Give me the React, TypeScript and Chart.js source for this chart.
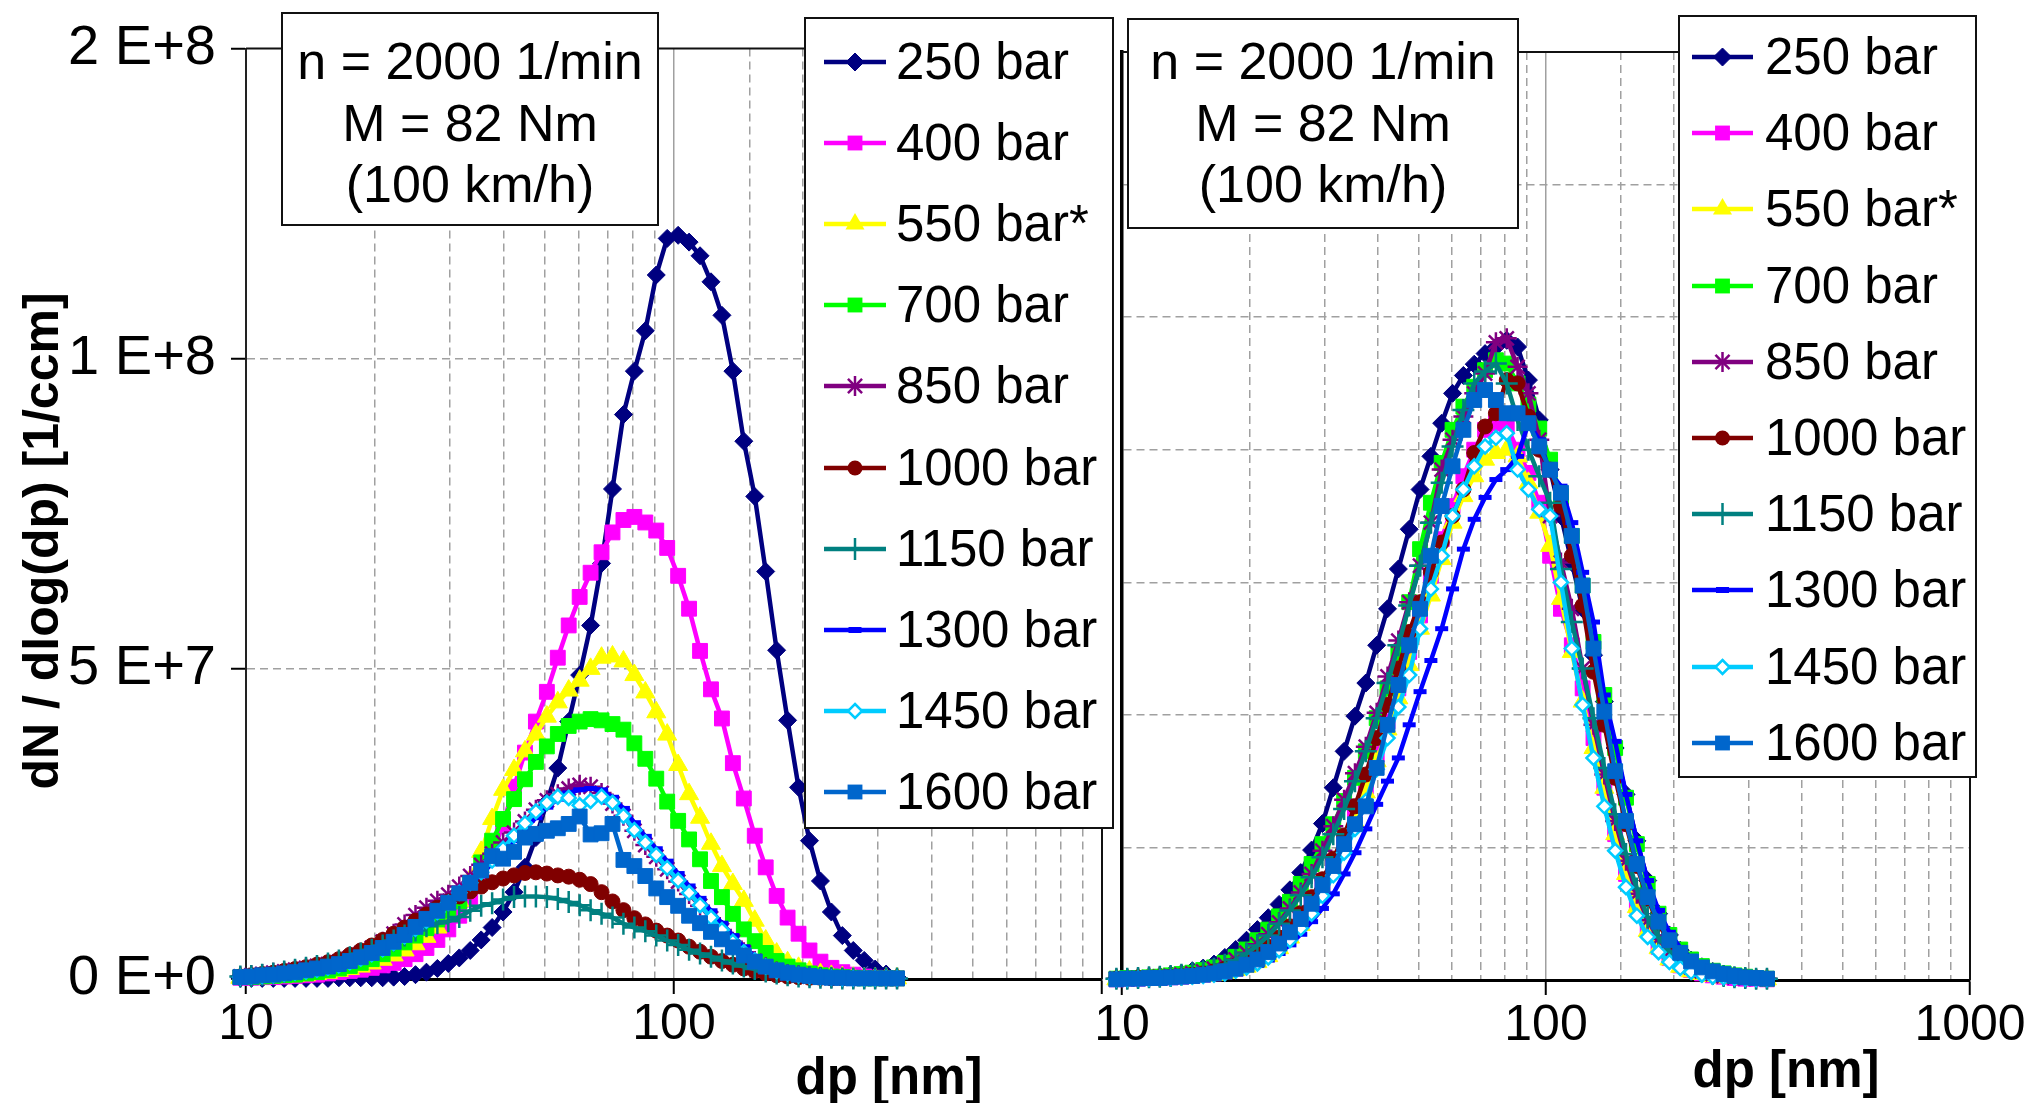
import React, { useEffect, useRef } from 'react';
import { Chart, registerables } from 'chart.js';

Chart.register(...registerables);

const FONT = '"Liberation Sans", Arial, sans-serif';

// particle diameter channels [nm]
const DP = [9.70, 10.29, 10.91, 11.58, 12.28, 13.02, 13.81, 14.65, 15.54, 16.48,
  17.48, 18.54, 19.67, 20.86, 22.13, 23.47, 24.89, 26.40, 28.00, 29.70,
  31.50, 33.41, 35.44, 37.59, 39.87, 42.29, 44.85, 47.57, 50.46, 53.52,
  56.75, 60.20, 63.85, 67.72, 71.83, 76.18, 80.80, 85.70, 90.90, 96.41,
  102.26, 108.46, 115.04, 122.02, 129.42, 137.26, 145.59, 154.42, 163.79, 173.72,
  184.26, 195.43, 207.29, 219.86, 233.19, 247.34, 262.34, 278.25, 295.12, 313.02, 332.0];

const SERIES_NAMES = ['250 bar', '400 bar', '550 bar*', '700 bar', '850 bar', '1000 bar', '1150 bar', '1300 bar', '1450 bar', '1600 bar'];

// Left chart: dN/dlog(dp) in units of 1E6 1/ccm
const L250 = [0.1, 0.1, 0.1, 0.1, 0.1, 0.1, 0.1, 0.1, 0.1, 0.2, 0.2, 0.2, 0.2, 0.2, 0.3, 0.4, 0.7, 1.1, 1.7, 2.5, 3.4, 4.6, 6.3, 8.3, 10.8, 14, 18, 22.8, 28.5, 34, 41.5, 49, 57, 67, 79, 91, 98, 104.5, 113.5, 119.4, 119.9, 118.8, 116.6, 112.4, 107, 98, 86.7, 77.8, 65.7, 53, 41.7, 30.9, 22.3, 15.8, 10.8, 7.0, 4.6, 3.0, 1.6, 0.8, 0.3];
const L400 = [0.2, 0.2, 0.3, 0.3, 0.4, 0.5, 0.6, 0.7, 0.9, 1.1, 1.3, 1.5, 1.8, 2.2, 2.6, 3.2, 4.0, 5.0, 6.3, 8.0, 10.2, 12.8, 16, 20, 25, 31, 36.5, 41.5, 46.3, 51.8, 57, 61.6, 65.5, 68.8, 72, 74, 74.5, 73.6, 72.3, 69.5, 65, 59.7, 52.9, 46.7, 42, 34.8, 29.1, 23.1, 18, 13.4, 9.9, 7.3, 4.6, 2.8, 1.8, 1.1, 0.7, 0.4, 0.2, 0.1, 0.1];
const L550 = [0.2, 0.2, 0.3, 0.3, 0.4, 0.5, 0.6, 0.8, 1.0, 1.3, 1.6, 2.0, 2.5, 3.1, 3.8, 4.6, 5.6, 6.8, 8.3, 10.2, 12.6, 16, 20.5, 25.8, 30.5, 33.7, 36.7, 39.4, 42.3, 44.6, 46.5, 48.1, 50, 51.8, 52, 51.2, 49, 46.2, 43, 39.4, 34.5, 29.8, 26, 21.8, 18.2, 15.3, 12.6, 9.4, 6.2, 4.1, 2.7, 1.8, 1.2, 0.8, 0.5, 0.3, 0.2, 0.1, 0.1, 0.1, 0.1];
const L700 = [0.3, 0.3, 0.4, 0.5, 0.6, 0.7, 0.9, 1.1, 1.4, 1.7, 2.1, 2.6, 3.2, 4.0, 4.9, 5.9, 7.0, 8.2, 9.6, 11.0, 12.5, 15.5, 18.8, 22.3, 25.8, 29, 32.2, 35, 37.5, 39.5, 40.8, 41.5, 41.9, 41.7, 41.1, 40.2, 38, 35.5, 32.3, 28.6, 25.5, 22.5, 19.3, 15.8, 13.2, 10.5, 8, 6.1, 4.2, 2.9, 2, 1.4, 0.9, 0.6, 0.4, 0.3, 0.2, 0.1, 0.1, 0.1, 0.1];
const L850 = [0.4, 0.6, 0.8, 1.0, 1.2, 1.5, 1.8, 2.1, 2.4, 2.8, 3.4, 4.1, 5.0, 6.0, 7.3, 8.8, 10.3, 11.5, 12.6, 13.6, 14.9, 16.6, 18.4, 20.2, 22, 23.6, 25.4, 27.3, 28.8, 29.8, 30.7, 31.3, 31, 30, 28.3, 26.3, 23.9, 21.6, 19.7, 17.7, 15.7, 13.7, 11.8, 9.8, 7.9, 6.0, 4.3, 2.9, 1.9, 1.2, 0.8, 0.6, 0.4, 0.3, 0.2, 0.2, 0.1, 0.1, 0.1, 0.1, 0.1];
const L1000 = [0.4, 0.6, 0.8, 1.0, 1.3, 1.6, 1.9, 2.3, 2.7, 3.2, 3.9, 4.6, 5.4, 6.3, 7.3, 8.3, 9.4, 10.4, 11.5, 12.5, 13.3, 14.1, 14.9, 15.6, 16.2, 16.7, 17.1, 17.2, 17, 16.7, 16.5, 16, 15.3, 14, 12.5, 11.1, 9.8, 8.8, 7.8, 7, 6.2, 5.2, 4.4, 3.6, 2.9, 2.3, 1.7, 1.3, 0.9, 0.6, 0.4, 0.3, 0.2, 0.2, 0.1, 0.1, 0.1, 0.1, 0.1, 0.1, 0.1];
const L1150 = [0.4, 0.5, 0.7, 0.9, 1.2, 1.5, 1.8, 2.1, 2.5, 3.0, 3.5, 4.1, 4.7, 5.4, 6.2, 7.0, 7.8, 8.5, 9.0, 9.3, 10, 11, 11.8, 12.2, 12.8, 13.2, 13.3, 13.3, 13.2, 12.9, 12.4, 11.9, 11.1, 10.5, 9.9, 8.9, 8.3, 7.7, 7.0, 6.2, 5.5, 4.7, 4.1, 3.6, 3.0, 2.5, 2.0, 1.6, 1.2, 0.9, 0.6, 0.4, 0.3, 0.2, 0.2, 0.1, 0.1, 0.1, 0.1, 0.1, 0.1];
const L1300 = [0.3, 0.4, 0.5, 0.7, 0.9, 1.1, 1.3, 1.6, 1.9, 2.3, 2.8, 3.4, 4.1, 5.0, 6.0, 7.1, 8.3, 9.6, 11.0, 12.4, 13.8, 15.3, 16.9, 18.6, 20.4, 22.3, 24.2, 26, 27.7, 29, 30, 30.5, 30.7, 30.5, 29.3, 27.5, 25.2, 23, 21, 19, 17, 15, 13, 11, 9, 7, 5.2, 3.6, 2.4, 1.6, 1.0, 0.7, 0.5, 0.3, 0.2, 0.2, 0.1, 0.1, 0.1, 0.1, 0.1];
const L1450 = [0.3, 0.4, 0.5, 0.6, 0.8, 1.0, 1.2, 1.5, 1.8, 2.2, 2.7, 3.3, 4.0, 4.8, 5.8, 6.9, 8.1, 9.4, 10.8, 12.3, 13.9, 15.5, 17.2, 19.1, 21, 23.1, 25.1, 27, 28.4, 29.4, 29.2, 28, 28.7, 29.4, 28.4, 26.3, 24, 22, 20, 17.9, 15.9, 13.9, 11.9, 9.9, 7.9, 6.0, 4.3, 3.0, 2.0, 1.3, 0.9, 0.6, 0.4, 0.3, 0.2, 0.1, 0.1, 0.1, 0.1, 0.1, 0.1];
const L1600 = [0.3, 0.4, 0.6, 0.7, 0.9, 1.1, 1.4, 1.7, 2.0, 2.4, 2.9, 3.5, 4.2, 5.0, 6.0, 7.1, 8.4, 9.7, 11, 12.3, 13.8, 15.5, 17.5, 19.8, 19.4, 20.5, 22.8, 23.4, 23.9, 24.3, 25, 26.2, 23.3, 23.5, 25, 19.2, 18.2, 16.6, 14.6, 13.2, 11.8, 10.2, 9, 7.6, 6.4, 5.1, 3.8, 2.8, 2.0, 1.4, 1.0, 0.7, 0.5, 0.3, 0.2, 0.2, 0.1, 0.1, 0.1, 0.1, 0.1];

// Right chart (axis without printed values, 7 grid divisions)
const R250 = [0.002, 0.003, 0.004, 0.005, 0.006, 0.008, 0.010, 0.014, 0.018, 0.024, 0.034, 0.046, 0.060, 0.076, 0.094, 0.114, 0.136, 0.162, 0.196, 0.236, 0.290, 0.345, 0.398, 0.448, 0.505, 0.560, 0.620, 0.680, 0.740, 0.790, 0.840, 0.885, 0.912, 0.929, 0.945, 0.955, 0.965, 0.955, 0.905, 0.845, 0.770, 0.700, 0.630, 0.560, 0.490, 0.420, 0.350, 0.280, 0.210, 0.150, 0.100, 0.068, 0.045, 0.030, 0.020, 0.013, 0.009, 0.006, 0.004, 0.003, 0.002];
const R400 = [0.001, 0.002, 0.002, 0.003, 0.003, 0.004, 0.005, 0.006, 0.008, 0.010, 0.013, 0.017, 0.023, 0.030, 0.040, 0.052, 0.068, 0.088, 0.112, 0.140, 0.172, 0.208, 0.248, 0.292, 0.340, 0.390, 0.440, 0.495, 0.550, 0.610, 0.665, 0.715, 0.760, 0.800, 0.830, 0.840, 0.835, 0.800, 0.765, 0.720, 0.640, 0.560, 0.505, 0.440, 0.365, 0.290, 0.220, 0.160, 0.112, 0.076, 0.050, 0.033, 0.022, 0.015, 0.010, 0.007, 0.005, 0.003, 0.002, 0.002, 0.001];
const R550 = [0.001, 0.001, 0.002, 0.002, 0.003, 0.003, 0.004, 0.005, 0.006, 0.008, 0.011, 0.015, 0.020, 0.027, 0.036, 0.048, 0.064, 0.083, 0.107, 0.135, 0.165, 0.198, 0.238, 0.283, 0.330, 0.378, 0.425, 0.475, 0.530, 0.580, 0.635, 0.690, 0.730, 0.760, 0.785, 0.795, 0.800, 0.790, 0.750, 0.705, 0.655, 0.575, 0.495, 0.420, 0.350, 0.290, 0.220, 0.160, 0.110, 0.074, 0.048, 0.031, 0.020, 0.013, 0.009, 0.006, 0.004, 0.003, 0.002, 0.001, 0.001];
const R700 = [0.002, 0.003, 0.003, 0.004, 0.005, 0.007, 0.009, 0.011, 0.015, 0.019, 0.026, 0.035, 0.046, 0.060, 0.076, 0.096, 0.118, 0.145, 0.175, 0.205, 0.235, 0.270, 0.305, 0.345, 0.395, 0.440, 0.495, 0.570, 0.650, 0.720, 0.780, 0.830, 0.865, 0.895, 0.920, 0.935, 0.930, 0.900, 0.868, 0.832, 0.785, 0.730, 0.670, 0.595, 0.510, 0.430, 0.350, 0.275, 0.205, 0.145, 0.100, 0.068, 0.046, 0.031, 0.021, 0.014, 0.010, 0.007, 0.005, 0.003, 0.002];
const R850 = [0.002, 0.002, 0.003, 0.004, 0.005, 0.006, 0.008, 0.010, 0.013, 0.017, 0.023, 0.031, 0.041, 0.054, 0.069, 0.087, 0.108, 0.132, 0.160, 0.195, 0.232, 0.272, 0.312, 0.352, 0.403, 0.458, 0.512, 0.570, 0.625, 0.690, 0.770, 0.815, 0.850, 0.885, 0.915, 0.962, 0.968, 0.925, 0.885, 0.815, 0.700, 0.630, 0.560, 0.470, 0.385, 0.310, 0.240, 0.180, 0.130, 0.090, 0.062, 0.042, 0.028, 0.019, 0.013, 0.009, 0.006, 0.004, 0.003, 0.002, 0.002];
const R1000 = [0.002, 0.002, 0.003, 0.003, 0.004, 0.005, 0.006, 0.008, 0.010, 0.013, 0.017, 0.022, 0.029, 0.038, 0.050, 0.064, 0.081, 0.101, 0.125, 0.152, 0.183, 0.218, 0.262, 0.310, 0.365, 0.415, 0.470, 0.525, 0.570, 0.615, 0.660, 0.700, 0.740, 0.795, 0.835, 0.855, 0.905, 0.900, 0.850, 0.800, 0.770, 0.715, 0.640, 0.565, 0.465, 0.385, 0.305, 0.235, 0.172, 0.122, 0.085, 0.058, 0.040, 0.027, 0.018, 0.012, 0.008, 0.006, 0.004, 0.003, 0.002];
const R1150 = [0.002, 0.002, 0.003, 0.004, 0.005, 0.006, 0.008, 0.010, 0.013, 0.017, 0.023, 0.030, 0.040, 0.052, 0.067, 0.085, 0.105, 0.128, 0.155, 0.185, 0.220, 0.258, 0.300, 0.345, 0.395, 0.448, 0.505, 0.565, 0.625, 0.690, 0.750, 0.805, 0.860, 0.900, 0.918, 0.930, 0.900, 0.845, 0.800, 0.760, 0.720, 0.620, 0.540, 0.470, 0.395, 0.320, 0.250, 0.190, 0.138, 0.095, 0.064, 0.043, 0.029, 0.020, 0.013, 0.009, 0.006, 0.004, 0.003, 0.002, 0.002];
const R1300 = [0.001, 0.001, 0.002, 0.002, 0.002, 0.003, 0.004, 0.004, 0.005, 0.007, 0.009, 0.012, 0.016, 0.022, 0.030, 0.040, 0.053, 0.069, 0.088, 0.108, 0.130, 0.160, 0.192, 0.228, 0.265, 0.300, 0.335, 0.385, 0.435, 0.482, 0.530, 0.590, 0.650, 0.695, 0.728, 0.755, 0.770, 0.790, 0.840, 0.815, 0.765, 0.745, 0.690, 0.615, 0.540, 0.430, 0.360, 0.280, 0.210, 0.150, 0.105, 0.072, 0.049, 0.033, 0.022, 0.015, 0.010, 0.007, 0.005, 0.003, 0.002];
const R1450 = [0.001, 0.001, 0.002, 0.002, 0.003, 0.003, 0.004, 0.005, 0.006, 0.008, 0.010, 0.014, 0.019, 0.025, 0.034, 0.045, 0.060, 0.078, 0.100, 0.127, 0.158, 0.192, 0.228, 0.270, 0.318, 0.365, 0.412, 0.460, 0.530, 0.590, 0.640, 0.700, 0.740, 0.775, 0.805, 0.818, 0.825, 0.770, 0.740, 0.710, 0.700, 0.600, 0.500, 0.415, 0.335, 0.262, 0.195, 0.140, 0.097, 0.065, 0.042, 0.027, 0.018, 0.012, 0.008, 0.005, 0.004, 0.003, 0.002, 0.001, 0.001];
const R1600 = [0.001, 0.002, 0.002, 0.003, 0.003, 0.004, 0.005, 0.006, 0.008, 0.010, 0.013, 0.017, 0.023, 0.031, 0.042, 0.055, 0.072, 0.092, 0.115, 0.143, 0.172, 0.205, 0.235, 0.262, 0.320, 0.385, 0.445, 0.505, 0.560, 0.640, 0.715, 0.775, 0.830, 0.875, 0.890, 0.875, 0.855, 0.855, 0.840, 0.805, 0.770, 0.735, 0.670, 0.595, 0.500, 0.405, 0.315, 0.240, 0.175, 0.125, 0.088, 0.060, 0.041, 0.028, 0.019, 0.013, 0.009, 0.006, 0.004, 0.003, 0.002];

const LEFT_VALUES = [L250, L400, L550, L700, L850, L1000, L1150, L1300, L1450, L1600];
const RIGHT_VALUES = [R250, R400, R550, R700, R850, R1000, R1150, R1300, R1450, R1600];
const LEFT_UNIT = 1e6;

const LEFT_X_LABELS = [10, 100];
const RIGHT_X_LABELS = [10, 100, 1000];
const INFO_LINES = ['n = 2000 1/min', 'M = 82 Nm', '(100 km/h)'];

// styles
const COLORS = ['#000080', '#FF00FF', '#FFFF00', '#00FF00', '#800080', '#800000', '#008080', '#0000FF', '#00CCFF', '#0066CC'];
const PSTYLE = ['rectRot', 'rect', 'triangle', 'rect', 'star', 'circle', 'cross', 'line', 'rectRot', 'rect'];
const PRADIUS = [9, 10.5, 11, 10.5, 10, 7.5, 11, 6.5, 7, 10.5];
const PBW = [1, 1, 1, 1, 2.5, 1, 2.5, 5, 2.5, 1];

const isDecade = (v: number) => Math.abs(Math.log10(v) - Math.round(Math.log10(v))) < 1e-6;
const fmtE = (v: number) => {
  if (v === 0) return '0 E+0';
  let e = Math.floor(Math.log10(v) + 1e-9);
  let m = Math.round(v / Math.pow(10, e));
  if (m >= 10) { m = 1; e += 1; }
  return `${m} E+${e}`;
};

const framePlugin = {
  id: 'frame',
  beforeDatasetsDraw(chart: any, _args: any, opts: any) {
    const { ctx, chartArea } = chart;
    ctx.save();
    ctx.strokeStyle = opts.color || '#000';
    ctx.lineWidth = opts.width || 2;
    ctx.beginPath();
    ctx.moveTo(chartArea.left, chartArea.top);
    ctx.lineTo(chartArea.right, chartArea.top);
    ctx.lineTo(chartArea.right, chartArea.bottom);
    ctx.stroke();
    ctx.restore();
  },
};

function makeDatasets(values: number[][], unit: number) {
  return SERIES_NAMES.map((name, i) => ({
    label: name,
    data: DP.map((x, j) => ({ x, y: values[i][j] * unit })),
    borderColor: COLORS[i],
    backgroundColor: COLORS[i],
    borderWidth: 4.5,
    pointStyle: PSTYLE[i],
    pointRadius: PRADIUS[i],
    pointBackgroundColor: i === 8 ? '#FFFFFF' : COLORS[i],
    pointBorderColor: COLORS[i],
    pointBorderWidth: PBW[i],
    tension: 0,
    order: SERIES_NAMES.length - 1 - i,
    clip: false,
  }));
}

function xScale(labels: number[], height: number) {
  return {
    type: 'logarithmic',
    position: 'bottom',
    min: 10,
    max: 1000,
    afterFit: (s: any) => { s.height = height; },
    ticks: {
      autoSkip: false,
      maxRotation: 0,
      minRotation: 0,
      padding: 1,
      color: '#000',
      font: { family: FONT, size: 50 },
      callback: (v: any) => {
        const n = Number(v);
        return labels.some((l) => Math.abs(l - n) < 1e-6) ? String(Math.round(n)) : '';
      },
    },
    grid: {
      color: (c: any) => (c.tick && (c.tick.value <= 10.0001 || c.tick.value >= 999.99) ? 'rgba(0,0,0,0)' : '#a0a0a0'),
      lineWidth: 1.5,
      tickLength: 15,
      tickWidth: 2,
      tickColor: (c: any) => (c.tick && isDecade(c.tick.value) ? '#000' : 'rgba(0,0,0,0)'),
    },
    border: {
      color: '#000',
      width: 3,
      dash: (c: any) => (c.tick && !isDecade(c.tick.value) ? [8, 5] : []),
    },
  };
}

function ChartCanvas({ config, left, width }: { config: any; left: number; width: number }) {
  const ref = useRef<HTMLCanvasElement>(null);
  useEffect(() => {
    const chart = new Chart(ref.current as HTMLCanvasElement, config);
    return () => chart.destroy();
  }, []);
  return (
    <canvas
      ref={ref}
      width={width}
      height={1103}
      style={{ position: 'absolute', left, top: 0, width, height: 1103 }}
    />
  );
}

const leftConfig = {
  type: 'line',
  data: { datasets: makeDatasets(LEFT_VALUES, LEFT_UNIT) },
  plugins: [framePlugin],
  options: {
    animation: false,
    responsive: false,
    devicePixelRatio: 1,
    layout: { padding: { left: 0, top: 42, right: 23, bottom: 0 } },
    plugins: { legend: { display: false }, tooltip: { enabled: false }, frame: { color: '#111', width: 2 } },
    scales: {
      x: xScale(LEFT_X_LABELS, 124),
      y: {
        type: 'linear',
        position: 'left',
        min: 0,
        max: 1.5e8,
        afterFit: (s: any) => { s.width = 246; },
        ticks: {
          stepSize: 5e7,
          padding: 15,
          color: '#000',
          font: { family: FONT, size: 56 },
          callback: (v: any) => fmtE(Number(v)),
        },
        grid: {
          color: (c: any) => (c.tick && c.tick.value > 1 && c.tick.value < 1.49e8 ? '#a0a0a0' : 'rgba(0,0,0,0)'),
          lineWidth: 1.5,
          tickLength: 15,
          tickWidth: 2,
          tickColor: '#000',
        },
        border: { color: '#222', width: 2, dash: (c: any) => (c.tick ? [8, 5] : []) },
      },
    },
  },
};

const rightConfig = {
  type: 'line',
  data: { datasets: makeDatasets(RIGHT_VALUES, 1) },
  plugins: [framePlugin],
  options: {
    animation: false,
    responsive: false,
    devicePixelRatio: 1,
    layout: { padding: { left: 0, top: 52, right: 61, bottom: 0 } },
    plugins: { legend: { display: false }, tooltip: { enabled: false }, frame: { color: '#111', width: 2 } },
    scales: {
      x: xScale(RIGHT_X_LABELS, 123),
      y: {
        type: 'linear',
        position: 'left',
        min: 0,
        max: 1.4,
        afterFit: (s: any) => { s.width = 62; },
        ticks: { stepSize: 0.2, display: false },
        grid: {
          color: (c: any) => (c.tick && c.tick.value > 0.01 && c.tick.value < 1.39 ? '#a0a0a0' : 'rgba(0,0,0,0)'),
          lineWidth: 1.5,
          drawTicks: false,
        },
        border: { color: '#000', width: 3.5, dash: (c: any) => (c.tick ? [8, 5] : []) },
      },
    },
  },
};

function Marker({ i, cx, cy }: { i: number; cx: number; cy: number }) {
  const c = COLORS[i];
  const r = PRADIUS[i];
  const s = PSTYLE[i];
  if (s === 'rectRot') {
    const pts = `${cx},${cy - r} ${cx + r},${cy} ${cx},${cy + r} ${cx - r},${cy}`;
    return <polygon points={pts} fill={i === 8 ? '#fff' : c} stroke={c} strokeWidth={PBW[i]} />;
  }
  if (s === 'rect') {
    const h = r * Math.SQRT1_2;
    return <rect x={cx - h} y={cy - h} width={2 * h} height={2 * h} fill={c} />;
  }
  if (s === 'triangle') {
    const pts = `${cx},${cy - r} ${cx + r * 0.866},${cy + r / 2} ${cx - r * 0.866},${cy + r / 2}`;
    return <polygon points={pts} fill={c} />;
  }
  if (s === 'circle') return <circle cx={cx} cy={cy} r={r} fill={c} />;
  if (s === 'star') {
    const d = r * Math.SQRT1_2;
    return (
      <g stroke={c} strokeWidth={2.5}>
        <line x1={cx - r} y1={cy} x2={cx + r} y2={cy} />
        <line x1={cx} y1={cy - r} x2={cx} y2={cy + r} />
        <line x1={cx - d} y1={cy - d} x2={cx + d} y2={cy + d} />
        <line x1={cx - d} y1={cy + d} x2={cx + d} y2={cy - d} />
      </g>
    );
  }
  if (s === 'cross') {
    return <line x1={cx} y1={cy - r} x2={cx} y2={cy + r} stroke={c} strokeWidth={2.5} />;
  }
  return <line x1={cx - r} y1={cy} x2={cx + r} y2={cy} stroke={c} strokeWidth={6} />;
}

function Legend({ left, top, width, height, firstRow, rowStep, lineX, lineW, textX }: any) {
  return (
    <div style={{ position: 'absolute', left, top, width, height, boxSizing: 'border-box', border: '2px solid #111', background: '#fff' }}>
      {SERIES_NAMES.map((name, i) => {
        const cy = firstRow + rowStep * i - top - 2;
        return (
          <div key={name} style={{ position: 'absolute', left: 0, top: cy - 30, width: width - 4, height: 60 }}>
            <svg width={lineW + 24} height={30} style={{ position: 'absolute', left: lineX - left - 2 - 12, top: 15, overflow: 'visible' }}>
              <line x1={12} y1={15} x2={12 + lineW} y2={15} stroke={COLORS[i]} strokeWidth={4.5} />
              <Marker i={i} cx={12 + lineW / 2} cy={15} />
            </svg>
            <span style={{ position: 'absolute', left: textX - left - 2, top: 0, lineHeight: '60px', font: `51px ${FONT}`, color: '#000', whiteSpace: 'nowrap' }}>{name}</span>
          </div>
        );
      })}
    </div>
  );
}

function InfoBox({ left, top, width, height, padTop }: any) {
  return (
    <div style={{ position: 'absolute', left, top, width, height, boxSizing: 'border-box', border: '2px solid #111', background: '#fff', textAlign: 'center', font: `52px ${FONT}`, lineHeight: '61.5px', paddingTop: padTop, color: '#000' }}>
      {INFO_LINES.map((t) => <div key={t}>{t}</div>)}
    </div>
  );
}

export default function App() {
  return (
    <div style={{ position: 'absolute', left: 0, top: 0, width: 2031, height: 1103, overflow: 'hidden', background: '#fff' }}>
      <ChartCanvas config={leftConfig} left={0} width={1125} />
      <ChartCanvas config={rightConfig} left={1060} width={971} />
      <InfoBox left={281} top={12} width={378} height={214} padTop={17} />
      <InfoBox left={1127} top={18} width={392} height={211} padTop={11} />
      <Legend left={804} top={17} width={310} height={812} firstRow={62} rowStep={81.1} lineX={824} lineW={62} textX={896} />
      <Legend left={1678} top={15} width={299} height={763} firstRow={57} rowStep={76.2} lineX={1692} lineW={61} textX={1765} />
      <div style={{ position: 'absolute', left: 37 - 300, top: 541 - 25, width: 600, height: 50, lineHeight: '50px', textAlign: 'center', font: `bold 50px ${FONT}`, color: '#000', transform: 'rotate(-90deg)', whiteSpace: 'nowrap' }}>
        dN / dlog(dp) [1/ccm]
      </div>
      <div style={{ position: 'absolute', left: 889 - 150, top: 1047, width: 300, height: 51, lineHeight: '51px', textAlign: 'center', font: `bold 51px ${FONT}`, color: '#000' }}>dp [nm]</div>
      <div style={{ position: 'absolute', left: 1786 - 150, top: 1040, width: 300, height: 51, lineHeight: '51px', textAlign: 'center', font: `bold 51px ${FONT}`, color: '#000' }}>dp [nm]</div>
    </div>
  );
}
